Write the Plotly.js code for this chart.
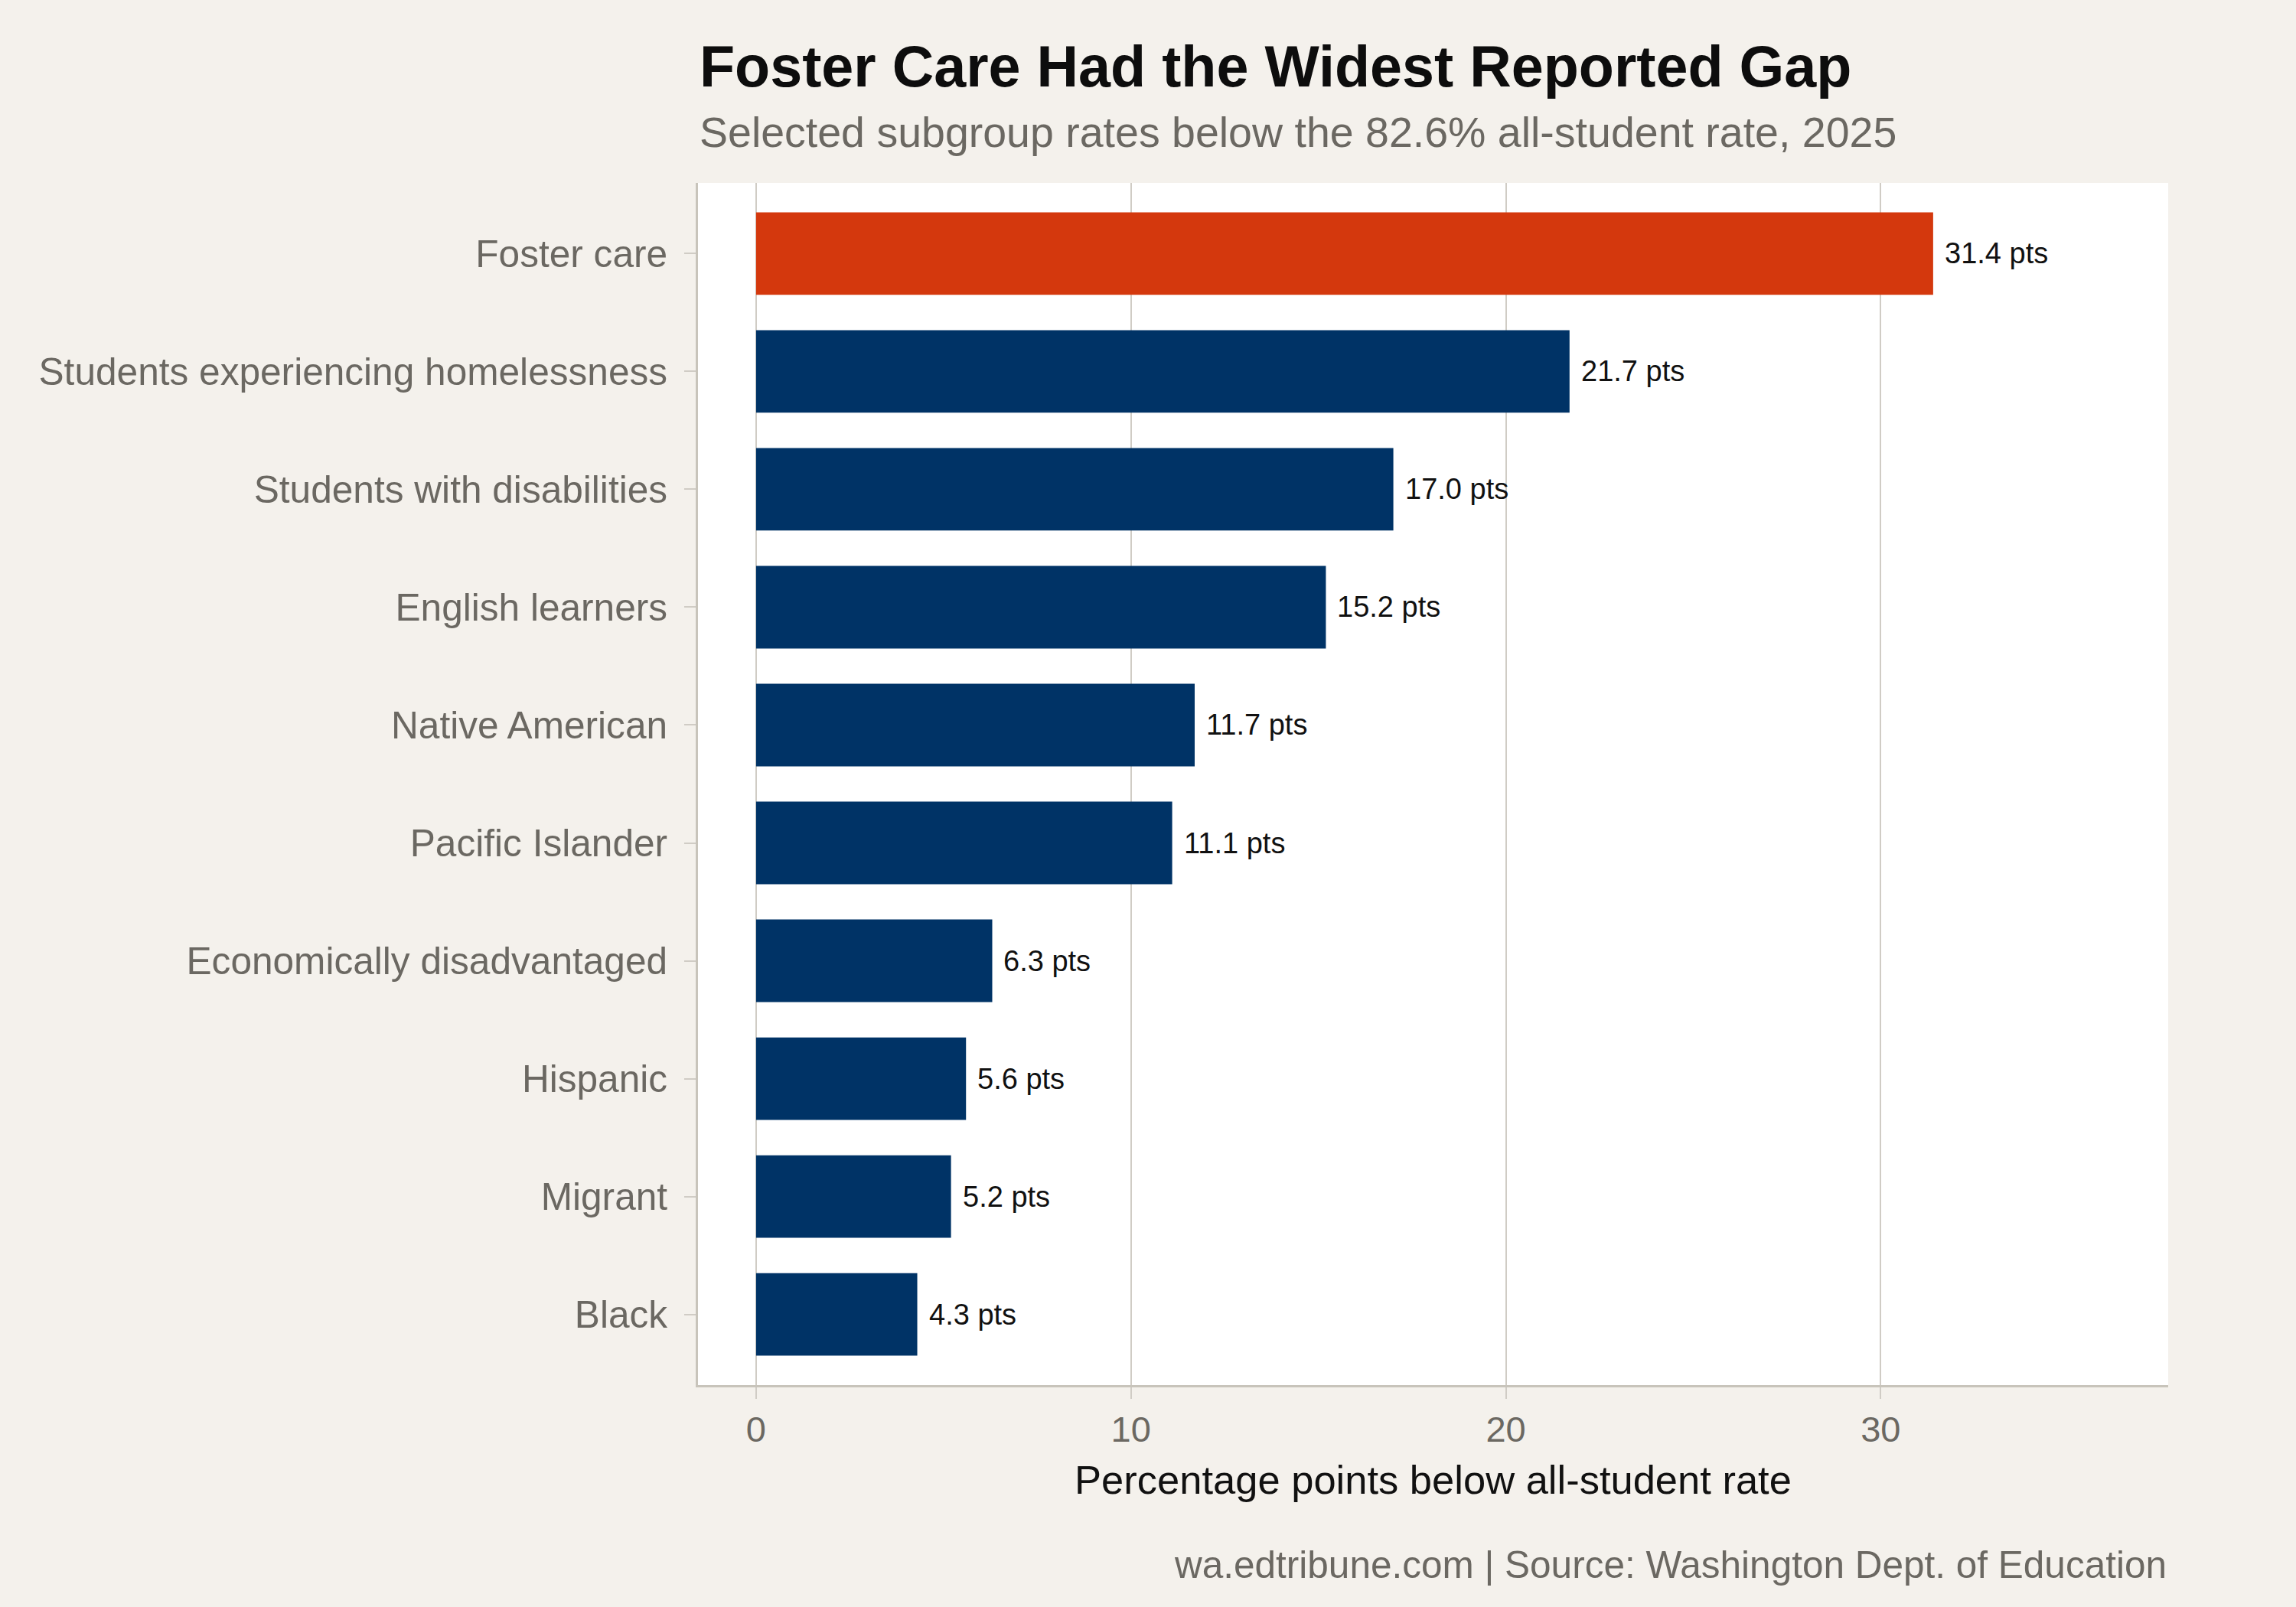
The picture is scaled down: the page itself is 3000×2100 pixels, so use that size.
<!DOCTYPE html>
<html>
<head>
<meta charset="utf-8">
<script src="https://cdn.plot.ly/plotly-3.0.1.min.js"></script>
<style>
  body { margin: 0; background: #f4f1ec; }
  #chart { width: 3000px; height: 2100px; }
</style>
</head>
<body>
<div id="chart"></div>
<script>
// gap to the 82.6% all-student rate, 2025
var groups = ['Foster care', 'Students experiencing homelessness', 'Students with disabilities',
  'English learners', 'Native American', 'Pacific Islander', 'Economically disadvantaged',
  'Hispanic', 'Migrant', 'Black'];
var gaps = [31.4, 21.7, 17.0, 15.2, 11.7, 11.1, 6.3, 5.6, 5.2, 4.3];
var xTicks = [0, 10, 20, 30];

var highlight = 'Foster care';
var colors = groups.map(g => g == highlight ? '#d4380d' : '#003366');

var font = 'Liberation Sans, Arial, Helvetica, sans-serif';
var gray = '#6b6862';

// plot area in pixels, used to place the header and caption
// (no "top" here: window.top can't be overwritten)
var figH = 2100, mTop = 239, mBottom = 290;
var plotH = figH - mTop - mBottom;
function py(px) { return 1 + (mTop - px) / plotH; }

var data = [{
  type: 'bar',
  orientation: 'h',
  y: groups,
  x: gaps,
  width: 0.7,
  marker: { color: colors },
  hoverinfo: 'x+y'
}];

var labels = gaps.map((v, i) => ({
  x: v, y: groups[i], xref: 'x', yref: 'y',
  text: v.toFixed(1) + ' pts',
  showarrow: false, xanchor: 'left', yanchor: 'middle', xshift: 13,
  font: { family: font, size: 38, color: '#111111' }
}));

var header = [
  { text: '<b>Foster Care Had the Widest Reported Gap</b>', x: 0, y: py(87), xanchor: 'left',
    font: { family: font, size: 75.5, color: '#0d0d0d' } },
  { text: 'Selected subgroup rates below the 82.6% all-student rate, 2025', x: 0, y: py(173), xanchor: 'left',
    font: { family: font, size: 55.5, color: gray } },
  { text: 'wa.edtribune.com | Source: Washington Dept. of Education', x: 1, y: py(2044), xanchor: 'right',
    font: { family: font, size: 49.5, color: gray } }
].map(a => Object.assign(a, { xref: 'paper', yref: 'paper', yanchor: 'middle', showarrow: false }));

var layout = {
  width: 3000,
  height: figH,
  margin: { l: 912, r: 167, t: mTop, b: mBottom },
  paper_bgcolor: '#f4f1ec',
  plot_bgcolor: '#ffffff',
  font: { family: font, color: gray },
  showlegend: false,
  bargap: 0.3,
  xaxis: {
    range: [-1.55, 37.67],
    tickvals: xTicks,
    ticktext: xTicks.map(String),
    tickfont: { family: font, size: 47, color: gray },
    ticks: 'outside', ticklen: 15, tickwidth: 2, tickcolor: '#d0ccc5',
    showgrid: true, gridcolor: '#d0ccc5', gridwidth: 2,
    zeroline: false,
    showline: true, linecolor: '#c8c4bb', linewidth: 3,
    title: { text: 'Percentage points below all-student rate', standoff: 22,
      font: { family: font, size: 52.5, color: '#111111' } }
  },
  yaxis: {
    type: 'category',
    categoryorder: 'array',
    categoryarray: groups,
    range: [groups.length - 0.4, -0.6],
    tickfont: { family: font, size: 49.6, color: gray },
    ticks: 'outside', ticklen: 15, tickwidth: 2, tickcolor: '#d0ccc5',
    ticklabelstandoff: 12,
    showgrid: false,
    zeroline: false,
    showline: true, linecolor: '#c8c4bb', linewidth: 3
  },
  annotations: labels.concat(header)
};

Plotly.newPlot('chart', data, layout, { displayModeBar: false, staticPlot: true });
</script>
</body>
</html>
